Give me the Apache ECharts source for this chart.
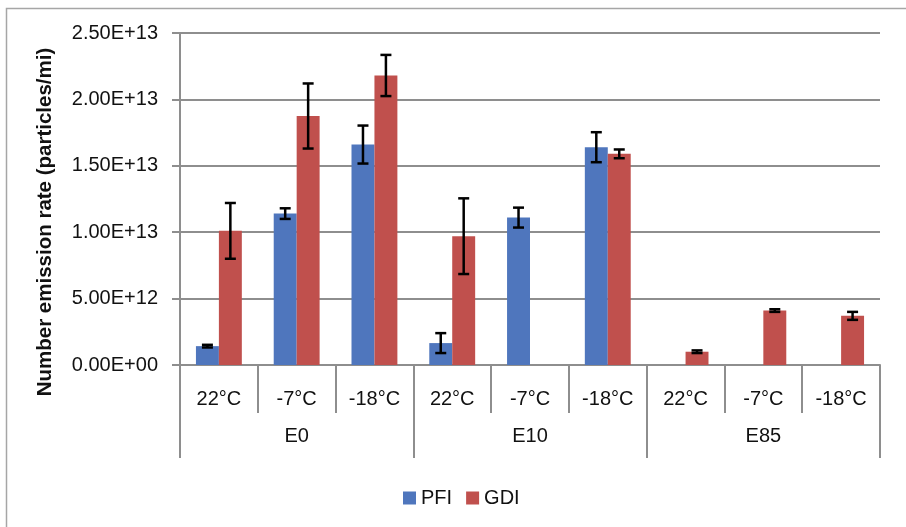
<!DOCTYPE html>
<html>
<head>
<meta charset="utf-8">
<script src="https://cdn.jsdelivr.net/npm/echarts@6/dist/echarts.min.js"></script>
<style>
html,body{margin:0;padding:0;background:#fff;}
#chart{width:906px;height:527px;}
</style>
</head>
<body>
<div id="chart"></div>
<script>
var categories = ['22°C', '-7°C', '-18°C', '22°C', '-7°C', '-18°C', '22°C', '-7°C', '-18°C'];
var fuelGroups = ['E0', 'E10', 'E85'];
var yTicks = [0, 5e12, 1e13, 1.5e13, 2e13, 2.5e13];
var pfiValues = [1.42e12, 1.14e13, 1.66e13, 1.65e12, 1.11e13, 1.64e13, null, null, null];
var pfiErrors = [0.1e12, 0.4e12, 1.43e12, 0.75e12, 0.75e12, 1.13e12, null, null, null];
var gdiValues = [1.01e13, 1.875e13, 2.18e13, 9.7e12, null, 1.59e13, 1.0e12, 4.1e12, 3.7e12];
var gdiErrors = [2.1e12, 2.45e12, 1.55e12, 2.85e12, null, 0.33e12, 0.1e12, 0.1e12, 0.3e12];

var CAT_GAP = 0.41;
var FONT = '"Liberation Sans", Arial, sans-serif';
var GRID_COLOR = '#8e8e8e';
var TEXT_COLOR = '#111';

function fmtExp(v) {
  if (v === 0) return '0.00E+00';
  var e = Math.floor(Math.log10(Math.abs(v)) + 1e-9);
  var m = v / Math.pow(10, e);
  var es = (e < 0 ? '-' : '+') + (Math.abs(e) < 10 ? '0' : '') + Math.abs(e);
  return m.toFixed(2) + 'E' + es;
}

function errData(vals, errs) {
  var out = [];
  for (var i = 0; i < vals.length; i++) {
    if (vals[i] != null && errs[i] != null) out.push([i, vals[i], errs[i]]);
  }
  return out;
}

function errRenderer(side) {
  return function (params, api) {
    var idx = api.value(0), val = api.value(1), err = api.value(2);
    var band = api.size([1, 0])[0];
    var barW = band * (1 - CAT_GAP) / 2;
    var c = api.coord([idx, val]);
    var x = c[0] + side * barW / 2;
    var top = api.coord([idx, val + err])[1];
    var bot = api.coord([idx, val - err])[1];
    var cap = 5.5;
    var st = { stroke: '#000', lineWidth: 2.5 };
    return {
      type: 'group',
      children: [
        { type: 'line', shape: { x1: x, y1: top, x2: x, y2: bot }, style: st },
        { type: 'line', shape: { x1: x - cap, y1: top, x2: x + cap, y2: top }, style: st },
        { type: 'line', shape: { x1: x - cap, y1: bot, x2: x + cap, y2: bot }, style: st }
      ]
    };
  };
}

var chart = echarts.init(document.getElementById('chart'), null, { renderer: 'canvas' });
chart.setOption({
  animation: false,
  backgroundColor: '#fff',
  textStyle: { fontFamily: FONT },
  graphic: [{
    type: 'rect', left: 4, top: 6, z: -10,
    shape: { width: 901, height: 530 },
    style: { fill: 'none', stroke: '#a6a6a6', lineWidth: 1.5 }
  }],
  grid: { left: 180, right: 26, top: 33, bottom: 162, containLabel: false },
  legend: {
    data: ['PFI', 'GDI'],
    left: 398, top: 483,
    icon: 'rect', itemWidth: 13, itemHeight: 13, itemGap: 14,
    textStyle: { fontSize: 20, color: TEXT_COLOR, fontFamily: FONT }
  },
  xAxis: [{
    type: 'category', data: categories, position: 'bottom',
    axisLine: { show: true, lineStyle: { color: GRID_COLOR, width: 2 } },
    axisTick: { show: true, length: 48, interval: 0, lineStyle: { color: GRID_COLOR, width: 2 } },
    axisLabel: { interval: 0, margin: 24, fontSize: 20, color: TEXT_COLOR, fontFamily: FONT }
  }, {
    type: 'category', data: fuelGroups, position: 'bottom',
    axisLine: { show: false },
    axisTick: { show: true, length: 93, interval: 0, lineStyle: { color: GRID_COLOR, width: 2 } },
    axisLabel: { interval: 0, margin: 61, fontSize: 20, color: TEXT_COLOR, fontFamily: FONT }
  }],
  yAxis: {
    type: 'value', min: yTicks[0], max: yTicks[yTicks.length - 1], interval: yTicks[1] - yTicks[0],
    name: 'Number emission rate (particles/mi)', nameLocation: 'middle', nameGap: 124, nameRotate: 90,
    nameTextStyle: { fontSize: 20.5, fontWeight: 'bold', color: TEXT_COLOR, fontFamily: FONT, padding: [0, 46, 0, 0] },
    axisLine: { show: true, lineStyle: { color: GRID_COLOR, width: 2 } },
    axisTick: { show: true, length: 8, lineStyle: { color: GRID_COLOR, width: 2 } },
    splitLine: { show: true, lineStyle: { color: GRID_COLOR, width: 2 } },
    axisLabel: { margin: 22, fontSize: 20, color: TEXT_COLOR, fontFamily: FONT, formatter: fmtExp }
  },
  series: [{
    name: 'PFI', type: 'bar', data: pfiValues, barGap: '0%', barCategoryGap: (CAT_GAP * 100) + '%',
    itemStyle: { color: '#4F76BD' }
  }, {
    name: 'GDI', type: 'bar', data: gdiValues, barGap: '0%', barCategoryGap: (CAT_GAP * 100) + '%',
    itemStyle: { color: '#C0504D' }
  }, {
    name: 'PFI error', type: 'custom', data: errData(pfiValues, pfiErrors),
    encode: { x: 0, y: 1 }, renderItem: errRenderer(-1), z: 5
  }, {
    name: 'GDI error', type: 'custom', data: errData(gdiValues, gdiErrors),
    encode: { x: 0, y: 1 }, renderItem: errRenderer(1), z: 5
  }]
});
</script>
</body>
</html>
